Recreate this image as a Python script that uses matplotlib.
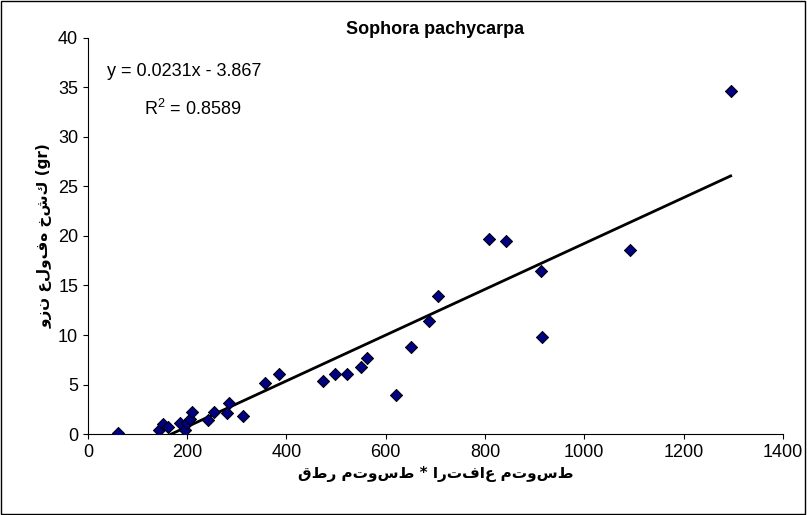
import numpy as np
import matplotlib.pyplot as plt

plt.rcParams['font.family'] = ['Liberation Sans', 'DejaVu Sans']

x = [60, 143, 151, 161, 185, 195, 199, 205, 210, 241, 254, 280, 284, 312,
     357, 385, 473, 498, 521, 551, 563, 620, 650, 688, 705, 808, 843, 912,
     915, 1093, 1295]
y = [0.1, 0.4, 1.0, 0.7, 1.1, 0.4, 1.1, 1.5, 2.2, 1.4, 2.2, 2.1, 3.1, 1.8,
     5.2, 6.1, 5.4, 6.1, 6.1, 6.8, 7.7, 3.9, 8.8, 11.4, 13.9, 19.7, 19.5,
     16.5, 9.8, 18.6, 34.6]
slope, intercept = 0.0231, -3.867

fig = plt.figure(figsize=(8.07, 5.15), dpi=100)
fig.patches.append(plt.Rectangle((0.001, 0.001), 0.997, 0.997, transform=fig.transFigure,
                                 fill=False, edgecolor='black', lw=1))
ax = fig.add_axes([0.109, 0.157, 0.861, 0.77])
ax.scatter(x, y, marker='D', s=38, color='#000080', edgecolor='black', linewidths=0.7, zorder=3)
xl = np.array([-intercept / slope, max(x)])
ax.plot(xl, slope * xl + intercept, color='black', lw=2)
ax.set_xlim(0, 1400)
ax.set_ylim(0, 40)
ax.set_xticks(range(0, 1401, 200))
ax.set_yticks(range(0, 41, 5))
ax.tick_params(labelsize=13, direction='out')
for s in ['top', 'right']:
    ax.spines[s].set_visible(False)
ax.set_title('Sophora pachycarpa', fontsize=13, fontweight='bold', pad=-2)
ax.set_xlabel('قطر متوسط * ارتفاع متوسط', fontsize=11, fontweight='bold', family='DejaVu Sans')
ax.set_ylabel('وزن علوفه خشك (gr)', fontsize=11, fontweight='bold', family='DejaVu Sans')
ax.text(0.027, 0.935, 'y = 0.0231x - 3.867', transform=ax.transAxes, fontsize=13, va='top')
ax.text(0.08, 0.845, '$\\mathregular{R^2}$ = 0.8589', transform=ax.transAxes, fontsize=13, va='top')
fig.savefig('out.png', dpi=100)
